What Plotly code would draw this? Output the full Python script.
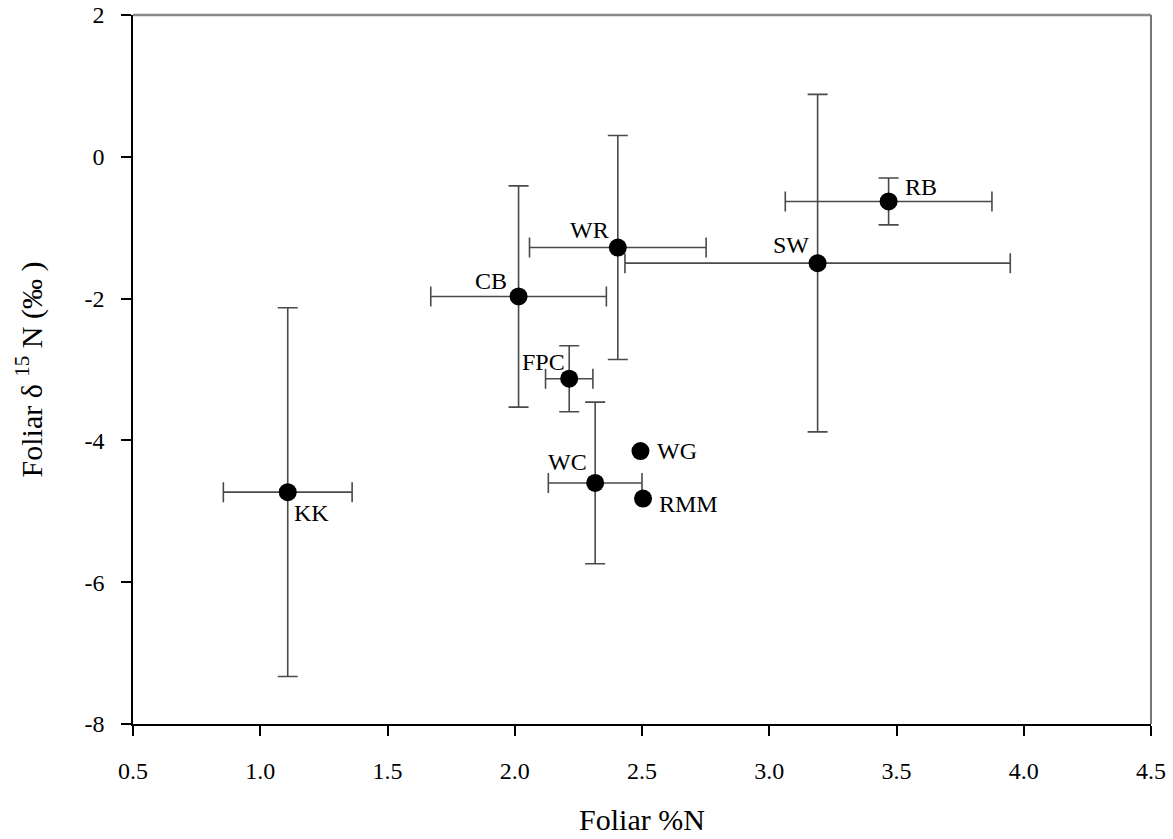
import plotly.graph_objects as go

sites = ["KK", "CB", "WR", "FPC", "WC", "WG", "RMM", "SW", "RB"]
foliar_n = [1.108, 2.015, 2.405, 2.214, 2.316, 2.494, 2.504, 3.190, 3.469]
foliar_n_se = [0.253, 0.345, 0.347, 0.093, 0.184, 0.0, 0.0, 0.757, 0.406]
d15n = [-4.73, -1.97, -1.28, -3.13, -4.60, -4.15, -4.82, -1.50, -0.63]
d15n_se = [2.60, 1.56, 1.58, 0.465, 1.14, 0.0, 0.0, 2.38, 0.33]

x_ticks = [0.5, 1.0, 1.5, 2.0, 2.5, 3.0, 3.5, 4.0, 4.5]
x_ticklabels = ["0.5", "1.0", "1.5", "2.0", "2.5", "3.0", "3.5", "4.0", "4.5"]
y_ticks = [-8, -6, -4, -2, 0, 2]
y_ticklabels = ["-8", "-6", "-4", "-2", "0", "2"]

# label placement: (xanchor, xshift, yshift)
label_pos = {
    "KK": ("left", 4, -21),
    "CB": ("right", -10, 15),
    "WR": ("right", -7, 18),
    "FPC": ("right", -2, 17),
    "WC": ("right", -6, 21),
    "WG": ("left", 15, 0),
    "RMM": ("left", 14, -5),
    "SW": ("right", -7, 18),
    "RB": ("left", 14, 14),
}

FONT = "Liberation Serif, Times New Roman, serif"
ERR_COLOR = "#4a4a4a"

fig = go.Figure()

idx_err = [i for i in range(len(sites)) if foliar_n_se[i] > 0 or d15n_se[i] > 0]
idx_noerr = [i for i in range(len(sites)) if i not in idx_err]

fig.add_trace(go.Scatter(
    x=[foliar_n[i] for i in idx_err],
    y=[d15n[i] for i in idx_err],
    mode="markers",
    marker=dict(color="black", size=18),
    error_x=dict(type="data", array=[foliar_n_se[i] for i in idx_err],
                 color=ERR_COLOR, thickness=1.6, width=10),
    error_y=dict(type="data", array=[d15n_se[i] for i in idx_err],
                 color=ERR_COLOR, thickness=1.6, width=10),
    showlegend=False,
))
fig.add_trace(go.Scatter(
    x=[foliar_n[i] for i in idx_noerr],
    y=[d15n[i] for i in idx_noerr],
    mode="markers",
    marker=dict(color="black", size=18),
    showlegend=False,
))

for s, xv, yv in zip(sites, foliar_n, d15n):
    xa, xs, ys = label_pos[s]
    fig.add_annotation(x=xv, y=yv, text=s, showarrow=False,
                       xanchor=xa, yanchor="middle", xshift=xs, yshift=ys,
                       font=dict(family=FONT, size=24, color="black"))

# top and right frame lines (grey)
fig.add_shape(type="line", xref="paper", yref="paper", x0=0, x1=1, y0=1, y1=1,
              line=dict(color="#888888", width=2.5))
fig.add_shape(type="line", xref="paper", yref="paper", x0=1, x1=1, y0=0, y1=1,
              line=dict(color="#777777", width=2))

fig.update_layout(
    width=1173, height=839,
    margin=dict(l=133, r=22, t=15, b=115),
    plot_bgcolor="white", paper_bgcolor="white",
    font=dict(family=FONT, size=24, color="black"),
    xaxis=dict(range=[0.5, 4.5], tickmode="array",
               tickvals=x_ticks, ticktext=x_ticklabels, automargin=False,
               showgrid=False, zeroline=False, showline=True, linecolor="black",
               linewidth=1.5, ticks="outside", ticklen=10, tickcolor="black",
               tickwidth=1.5, tickfont=dict(family=FONT, size=24),
               ticklabelstandoff=14,
               title=dict(text="Foliar %N", font=dict(family=FONT, size=30), standoff=26)),
    yaxis=dict(range=[-8, 2], tickmode="array", tickvals=y_ticks, ticktext=y_ticklabels,
               automargin=False,
               showgrid=False, zeroline=False, showline=True, linecolor="black",
               linewidth=1.5, ticks="outside", ticklen=10, tickcolor="black",
               tickwidth=1.5, tickfont=dict(family=FONT, size=24),
               ticklabelstandoff=12,
               title=dict(text="Foliar δ <sup>15</sup> N (‰ )", font=dict(family=FONT, size=30),
                          standoff=33)),
)

fig.write_html("out.html")
